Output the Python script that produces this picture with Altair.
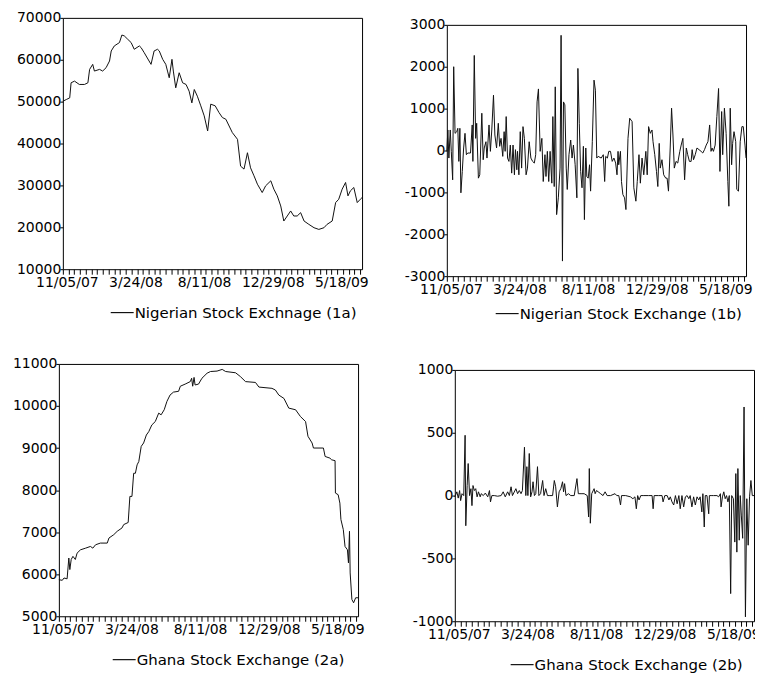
import json
import altair as alt
import pandas as pd

FONT = "DejaVu Sans"
X_LABELS = ["11/05/07", "3/24/08", "8/11/08", "12/29/08", "5/18/09"]
X_END = 87.2                      # weeks after 11/05/07 at the right edge
MINOR_TICKS = [i * 10 / 6 for i in range(53)]

# ---- Nigerian Stock Exchange, level (1a) : week, index
ng_lvl_w = [0, 1.0, 2.0, 2.4, 3.4, 4.8, 6.3, 7.3, 7.8, 8.7, 9.2, 10.7, 11.6, 12.6, 13.6, 14.1,
            15.0, 16.5, 17.2, 17.9, 18.9, 19.9, 20.8, 22.3, 22.8, 23.7, 25.7, 26.6, 27.6, 28.1,
            29.1, 30.0, 30.5, 31.0, 31.8, 32.2, 32.9, 33.9, 34.9, 35.9, 36.8, 37.6, 38.3, 39.2,
            40.2, 41.2, 42.2, 43.1, 44.4, 45.5, 46.5, 47.5, 49.4, 50.9, 51.8, 52.8, 53.8, 54.7,
            55.7, 56.7, 58.1, 59.1, 60.6, 61.5, 62.5, 63.5, 64.4, 65.4, 66.4, 67.3, 68.3, 69.3,
            70.3, 71.7, 73.2, 74.6, 76.1, 77.0, 78.5, 79.5, 80.4, 81.4, 82.4, 83.1, 83.8, 84.8,
            85.8, 86.7, 87.2]
ng_lvl_v = [50100, 50500, 50900, 54500, 54900, 54100, 54100, 54500, 57700, 58900, 57300, 57700,
            57300, 58100, 59700, 62100, 63300, 64100, 65900, 65700, 64900, 64100, 62500, 63300,
            62900, 61700, 58900, 62100, 62500, 62100, 60100, 58900, 57300, 55700, 60100, 57300,
            53300, 56900, 54500, 54100, 52500, 49700, 52900, 51300, 49000, 46600, 43000, 49400,
            49000, 47400, 46200, 45800, 42600, 41000, 34600, 33900, 37800, 34200, 32300, 30300,
            28300, 29900, 31100, 29100, 27500, 25100, 21500, 22700, 23900, 22700, 22700, 23500,
            21500, 20700, 19900, 19500, 19900, 20700, 21500, 25900, 26700, 29100, 30700, 27500,
            28700, 29500, 25900, 26700, 27100]

# ---- Nigerian Stock Exchange, first difference (1b)
ng_dif_w = [0.0, 0.3, 0.6, 1.0, 1.3, 1.7, 2.0, 2.4, 2.9, 3.2, 3.5, 3.8, 4.1, 4.5, 4.9, 5.3, 5.7,
            6.1, 6.9, 7.4, 7.6, 8.0, 8.4, 8.7, 9.2, 9.6, 10.2, 10.6, 10.9, 11.4, 11.7, 12.3, 12.7,
            13.1, 13.6, 14.0, 14.5, 15.0, 15.4, 15.8, 16.3, 16.7, 17.0, 17.3, 17.7, 18.1, 18.5,
            18.9, 19.3, 19.7, 20.0, 20.4, 20.6, 21.0, 21.4, 21.8, 22.2, 22.6, 23.1, 23.5, 24.0,
            24.5, 25.0, 25.5, 25.9, 26.3, 26.7, 27.2, 27.7, 28.1, 28.6, 28.9, 29.3, 29.7, 30.1,
            30.6, 30.9, 31.3, 31.6, 32.0, 32.5, 33.0, 33.3, 33.7, 34.0, 34.4, 34.8, 35.1, 35.6,
            36.1, 36.5, 36.9, 37.4, 37.9, 38.2, 38.6, 39.0, 39.4, 39.8, 40.1, 40.5, 40.8, 41.2,
            41.6, 41.9, 42.4, 42.9, 43.3, 43.7, 44.1, 45.0, 45.6, 46.0, 46.3, 46.8, 47.2, 47.7,
            48.2, 48.7, 49.2, 49.6, 49.9, 50.1, 50.6, 50.9, 51.3, 51.8, 52.2, 52.8, 53.3, 54.0,
            54.5, 55.1, 55.5, 56.0, 56.4, 56.9, 57.4, 58.0, 58.4, 58.8, 59.3, 59.8, 60.1, 60.6,
            61.1, 61.5, 61.9, 62.2, 62.7, 63.2, 63.8, 64.2, 64.6, 65.1, 65.5, 65.9, 66.3, 66.8,
            67.3, 67.9, 68.3, 68.8, 69.3, 69.8, 70.2, 70.7, 71.2, 71.5, 71.9, 72.4, 72.9, 73.5,
            74.1, 74.6, 75.1, 75.6, 76.1, 76.6, 77.0, 77.3, 77.7, 78.2, 78.7, 79.2, 79.6, 80.1,
            80.4, 80.9, 81.4, 81.9, 82.2, 82.6, 83.0, 83.3, 83.7, 84.2, 84.5, 85.0, 85.5, 86.0,
            86.4, 86.9, 87.2]
ng_dif_v = [-20, 490, -180, 490, -20, -700, 2000, 410, 450, 530, -260, 530, -1010, -500, 60, 410,
            -100, -60, -60, 610, -260, 2270, 290, 650, -660, -580, 890, -220, 60, 210, -180, 610,
            -20, 490, 1320, 370, 60, 650, 100, 290, -140, 450, -20, 810, -180, -260, 130, -540,
            130, -580, 20, -460, -20, -580, 450, -420, 570, 290, -580, -420, 210, -180, -260,
            -300, -100, 1160, 1470, -20, 290, -740, -100, -620, -20, -740, -20, -780, 810, -860,
            1520, -1530, -1130, -420, 2750, -2640, 1160, 1090, -420, -930, -100, 250, -180, 130,
            -340, -1130, 1960, 650, -500, -890, 100, -1650, 60, -620, -660, -340, -970, 210,
            1680, 1440, -180, -140, -180, -100, -740, -140, -180, -20, -20, -260, -180, -300,
            -580, -20, -340, -20, -740, -1050, -1130, -1410, 290, 770, 690, -890, -1210, -740,
            -100, -780, -180, -580, -20, -580, 570, 410, 490, 210, -100, -500, -860, 170, -420,
            -220, -580, -660, -660, -970, 60, 1010, 370, -420, -260, -300, -20, 130, 290, -700,
            60, -100, -260, -260, 20, -220, -100, 60, 20, -20, -60, 20, 130, 210, 610, -20, 60,
            -20, 130, 810, 1480, -500, 930, -100, 1010, 410, -740, -1330, 1010, -340, 170, 450,
            210, -930, -970, 210, 570, 570, 130, -180]

# ---- Ghana Stock Exchange, level (2a)
gh_lvl_w = [0, 1.0, 1.5, 2.4, 2.9, 3.2, 3.6, 4.1, 4.8, 5.3, 6.3, 7.8, 9.2, 9.9, 10.7, 12.1, 14.1,
            14.6, 16.0, 17.0, 18.4, 18.9, 20.2, 20.7, 21.3, 21.8, 22.3, 22.8, 23.3, 24.0, 24.7,
            25.5, 26.2, 27.1, 28.1, 29.1, 29.8, 30.7, 31.5, 32.4, 33.4, 34.9, 35.4, 36.8, 38.3,
            38.7, 39.0, 39.4, 39.7, 40.7, 41.7, 43.2, 44.2, 46.1, 47.6, 48.6, 51.5, 52.9, 54.4,
            57.3, 58.3, 62.1, 63.1, 64.1, 65.6, 67.0, 69.0, 70.4, 71.9, 72.6, 73.8, 74.2, 77.1,
            77.6, 79.0, 79.5, 80.5, 80.6, 81.4, 81.9, 82.2, 82.9, 83.4, 84.1, 84.4, 84.7, 84.9,
            85.4, 85.9, 86.5, 87.2]
gh_lvl_v = [5870, 5855, 5910, 5890, 6385, 6110, 6350, 6425, 6350, 6500, 6580, 6620, 6660, 6620,
            6700, 6740, 6740, 6860, 6940, 7020, 7100, 7180, 7230, 7850, 7850, 8400, 8400, 8600,
            8680, 9040, 9120, 9310, 9390, 9550, 9630, 9830, 9790, 9910, 10110, 10260, 10330,
            10350, 10470, 10520, 10580, 10660, 10470, 10680, 10500, 10520, 10660, 10780, 10820,
            10830, 10870, 10820, 10790, 10700, 10580, 10560, 10450, 10420, 10380, 10260, 10180,
            9950, 9910, 9750, 9630, 9280, 9120, 9000, 9000, 8800, 8760, 8720, 8700, 7930, 7890,
            7690, 7300, 7060, 6660, 6580, 6270, 7020, 6030, 5400, 5320, 5440, 5440]

# ---- Ghana Stock Exchange, first difference (2b)
gh_dif_w = [0, 0.6, 1.0, 1.4, 1.7, 2.1, 2.6, 3.0, 3.2, 3.6, 3.9, 4.3, 4.7, 5.0, 5.3, 5.7, 6.1,
            6.5, 6.9, 7.4, 7.7, 8.3, 8.9, 9.6, 10.1, 10.4, 10.8, 11.5, 12.5, 13.5, 14.1, 14.7,
            15.4, 15.9, 16.4, 16.8, 17.8, 18.3, 18.8, 19.3, 19.7, 20.3, 20.7, 21.0, 21.3, 21.7,
            22.1, 22.5, 22.8, 23.2, 23.6, 24.1, 24.5, 25.0, 25.6, 26.0, 26.5, 27.0, 27.7, 28.5,
            29.0, 29.4, 29.9, 30.4, 30.9, 31.4, 31.7, 32.0, 32.4, 33.1, 33.8, 34.8, 35.6, 36.0,
            36.8, 37.7, 38.6, 39.0, 39.2, 39.5, 39.9, 40.6, 40.9, 41.3, 41.8, 42.5, 43.2, 43.8,
            44.4, 45.4, 46.7, 47.2, 47.8, 48.3, 48.6, 49.8, 51.2, 51.9, 52.5, 52.9, 53.3, 53.7,
            54.2, 55.1, 56.5, 57.5, 57.8, 58.1, 59.4, 60.4, 60.7, 61.2, 61.9, 62.4, 62.8, 63.3,
            63.8, 64.3, 64.8, 65.3, 65.7, 66.2, 66.7, 67.2, 67.7, 68.2, 68.6, 69.1, 69.6, 70.1,
            70.6, 71.1, 71.5, 72.0, 72.3, 72.7, 73.0, 73.5, 74.0, 74.2, 74.7, 75.4, 76.4, 76.9,
            77.4, 77.6, 78.0, 78.4, 78.8, 79.2, 79.6, 80.0, 80.4, 80.7, 81.2, 81.6, 81.9, 82.2,
            82.5, 82.9, 83.2, 83.5, 83.9, 84.3, 84.7, 85.1, 85.5, 85.9, 86.3, 86.7, 87.2]
gh_dif_v = [-10, 30, -20, 40, -40, 15, 0, 480, -240, 80, 255, 0, 55, -80, 80, 40, 55, -10, 30,
            -10, 15, 0, 20, -10, 40, -50, 0, 0, -5, 0, 30, -10, 30, 0, 70, 0, 55, 15, 40, 15, 40,
            385, 0, 230, 0, 335, -10, 30, 110, 0, 15, 230, 0, 15, 120, 0, 55, 0, 0, 0, 120, 70,
            -90, 30, 55, 110, 30, 95, 0, 15, 0, 0, 135, 15, 15, 15, 0, -170, 215, -220, 15, 55,
            15, 40, 30, 15, 0, 30, 0, 0, 15, 0, 0, -75, 0, 0, -10, -25, -10, -105, 0, -35, 0, 0,
            0, 0, -105, 0, 0, 0, -50, 0, 0, -35, -10, -50, -75, 0, -65, 0, -105, 0, -90, -10, 0,
            -25, 0, -90, -10, -75, -10, -35, -10, -130, 15, -250, 0, 0, -145, 0, 0, 0, 0, -10,
            15, -90, -10, 30, -25, 0, -50, 0, -780, 0, -25, -370, 175, -450, 215, -355, 0, -155,
            -340, 705, -965, -25, -395, -10, 120, 0, 0]

LABEL_EXPR = ("abs(datum.value/20 - round(datum.value/20)) < 0.001 ? "
              + json.dumps(X_LABELS) + "[round(datum.value/20)] : ''")


def panel(weeks, values, name, y_lo, y_hi, y_step, y_extent, leg_x, leg_y, height=252,
          title_offset=None):
    df = pd.DataFrame({"week": weeks, "value": values, "series": name})
    y_vals = list(range(y_lo, y_hi + 1, y_step))
    x = alt.X("week:Q",
              scale=alt.Scale(domain=[0, X_END], nice=False, zero=False),
              axis=alt.Axis(values=MINOR_TICKS, labelExpr=LABEL_EXPR, title=None, grid=False,
                            domain=False, labelOverlap=False, labelFlush=False, ticks=True,
                            labelOffset=4, labelPadding=1, labelFontSize=14, tickSize=5))
    y = alt.Y("value:Q",
              scale=alt.Scale(domain=[y_lo, y_hi], nice=False, zero=False),
              axis=alt.Axis(values=y_vals, labelExpr="'' + datum.value", title=None, grid=False,
                            domain=False, tickSize=3, labelPadding=-1, labelFontSize=14,
                            minExtent=y_extent, maxExtent=y_extent))
    color = alt.Color("series:N", scale=alt.Scale(range=["#111111"]),
                      legend=alt.Legend(title=None, orient="none", legendX=leg_x, legendY=leg_y,
                                        symbolType="stroke", symbolSize=529, symbolStrokeWidth=1.2,
                                        labelFont=FONT, labelFontSize=15, labelOffset=0,
                                        labelLimit=400, padding=0, labelColor="black"))
    props = dict(width=300, height=height)
    if title_offset is not None:
        props["title"] = alt.TitleParams("\u00a0", fontSize=1, offset=title_offset)
    return alt.Chart(df).mark_line(strokeWidth=1.0).encode(x=x, y=y, color=color).properties(**props)


def spacer():
    # invisible 1x1 cell, used only to let the panels be placed independently
    return alt.Chart(pd.DataFrame({"s": [0]})).mark_point(size=0, opacity=0).encode(
        x=alt.X("s:Q", axis=None), y=alt.Y("s:Q", axis=None)
    ).properties(width=1, height=1, view=alt.ViewBackground(stroke="transparent"))


p1a = panel(ng_lvl_w, ng_lvl_v, "Nigerian Stock Exchnage (1a)", 10000, 70000, 10000, 51, 47, 283)
p1b = panel(ng_dif_w, ng_dif_v, "Nigerian Stock Exchange (1b)", -3000, 3000, 1000, 77, 48, 277,
            title_offset=6)
p2a = panel(gh_lvl_w, gh_lvl_v, "Ghana Stock Exchange (2a)", 5000, 11000, 1000, 45, 53, 284,
            height=253, title_offset=33)
p2b = panel(gh_dif_w, gh_dif_v, "Ghana Stock Exchange (2b)", -1000, 1000, 500, 89, 55, 283,
            title_offset=32)

chart = alt.concat(spacer(), spacer(), spacer(),
                   spacer(), p1a, p1b,
                   spacer(), p2a, p2b,
                   columns=3, align="none", spacing=0).resolve_scale(
    color="independent").resolve_legend(color="independent").properties(
    padding={"left": 0, "top": -2, "right": -6, "bottom": -2}, background="white"
).configure_view(
    stroke="black", strokeWidth=1
).configure_axis(
    labelFont=FONT, labelColor="black", tickColor="black", tickWidth=1
)

chart.save("out.html", embed_options={"renderer": "svg", "actions": False})
